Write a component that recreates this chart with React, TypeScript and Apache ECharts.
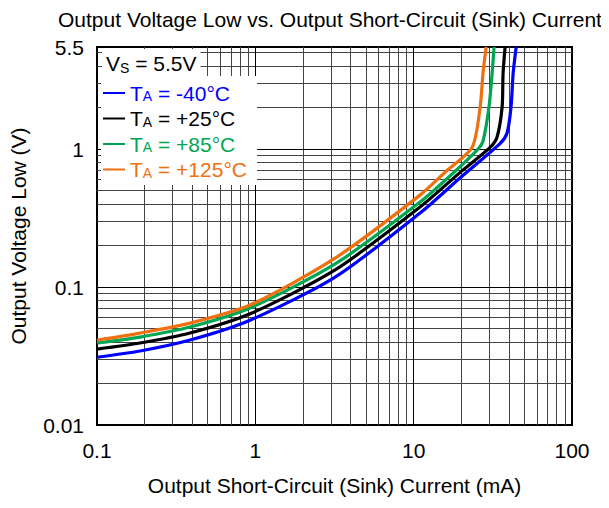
import React, { useEffect, useRef } from "react";
import * as echarts from "echarts";

const xTicks = [0.1, 1, 10, 100];
const yTicks = [0.01, 0.1, 1, 5.5];
const xMinorGrid = [0.2, 0.3, 0.4, 0.5, 0.6, 0.7, 0.8, 0.9, 2, 3, 4, 5, 6, 7, 8, 9, 20, 30, 40, 50, 60, 70, 80, 90];
const xMajorGrid = [1, 10];
const yMinorGrid = [0.02, 0.03, 0.04, 0.05, 0.06, 0.07, 0.08, 0.09, 0.2, 0.3, 0.4, 0.5, 0.6, 0.7, 0.8, 0.9, 2, 3, 4, 5];
const yMajorGrid = [0.1, 1];

const seriesNames = ["TA = -40°C", "TA = +25°C", "TA = +85°C", "TA = +125°C"];
const seriesColors = ["#0000FF", "#000000", "#00A651", "#F07010"];

const currentM40 = [0.1, 0.187, 0.387, 0.926, 3.19, 10.97, 19.6, 35.2, 38.9, 41.2, 42.5, 44.4];
const voltageM40 = [0.031, 0.0344, 0.0413, 0.0575, 0.118, 0.344, 0.617, 1.1, 1.31, 2.02, 3.55, 5.5];

const currentP25 = [0.1, 0.187, 0.387, 0.926, 3.19, 10.97, 20, 30.4, 33.6, 36.2, 36.7, 37.8];
const voltageP25 = [0.0355, 0.0393, 0.0464, 0.064, 0.133, 0.38, 0.69, 1.03, 1.22, 2.02, 3.55, 5.5];

const currentP85 = [0.1, 0.187, 0.387, 0.926, 3.19, 10.97, 18, 25.5, 27.4, 29.9, 31.3, 32.2];
const voltageP85 = [0.0393, 0.0434, 0.0513, 0.0705, 0.147, 0.413, 0.68, 1.0, 1.14, 2.02, 3.55, 5.5];

const currentP125 = [0.1, 0.187, 0.387, 0.926, 3.19, 10.97, 15.8, 23.4, 26.3, 27.4, 28.7];
const voltageP125 = [0.0413, 0.0464, 0.0548, 0.0741, 0.162, 0.464, 0.68, 1.03, 2.02, 3.55, 5.5];

const allCurrents = [currentM40, currentP25, currentP85, currentP125];
const allVoltages = [voltageM40, voltageP25, voltageP85, voltageP125];

const FONT = "Liberation Sans, Arial, sans-serif";
const FS = 21;
const SUB = 14;

export default function App() {
  const ref = useRef<HTMLDivElement>(null);
  useEffect(() => {
    if (!ref.current) return;
    const chart = echarts.init(ref.current, undefined, { renderer: "svg" });
    const gridLine = (vals: number[], key: "xAxis" | "yAxis", color: string) =>
      vals.map((v) => ({ [key]: v, lineStyle: { color, width: 1, type: "solid" } }));

    const curves = seriesNames.map((name, i) => ({
      name,
      type: "line",
      data: allCurrents[i].map((c, j) => [c, allVoltages[i][j]]),
      showSymbol: false,
      symbol: "none",
      smooth: 0.25,
      z: 5,
      lineStyle: { color: seriesColors[i], width: 3.2 },
      itemStyle: { color: seriesColors[i] },
    }));

    const rich: any = {};
    seriesColors.forEach((c) => {
      const k = c.slice(1);
      rich[`m${k}`] = { color: c, fontSize: FS, fontFamily: FONT, lineHeight: 20 };
      rich[`s${k}`] = { color: c, fontSize: SUB, fontFamily: FONT, verticalAlign: "bottom", padding: [10, 0, 0, 0], lineHeight: 20 };
    });

    chart.setOption({
      animation: false,
      title: {
        text: "Output Voltage Low vs. Output Short-Circuit (Sink) Current",
        left: 53,
        top: 4,
        textStyle: { fontFamily: FONT, fontSize: FS, fontWeight: "normal", color: "#000" },
      },
      grid: {
        left: 97,
        right: 37,
        top: 47,
        bottom: 83,
        show: true,
        borderColor: "#000",
        borderWidth: 2,
        backgroundColor: "#fff",
      },
      legend: {
        data: seriesNames,
        orient: "vertical",
        left: 101,
        top: 76,
        padding: [3, 10, 5, 2],
        itemGap: 1,
        backgroundColor: "#fff",
        icon: "rect",
        itemWidth: 22,
        itemHeight: 2,
        z: 10,
        textStyle: { fontFamily: FONT, fontSize: FS, rich },
        formatter: (name: string) => {
          const i = seriesNames.indexOf(name);
          const k = seriesColors[i].slice(1);
          const rest = name.slice(2);
          return `{m${k}|T}{s${k}|A}{m${k}|${rest}}`;
        },
      },
      graphic: [
        {
          type: "text",
          left: 102,
          top: 49,
          z: 20,
          style: {
            text: "{m|V}{s|S}{m| = 5.5V}",
            backgroundColor: "#fff",
            padding: [2, 4, 2, 4],
            rich: {
              m: { fontSize: FS, fontFamily: FONT, fill: "#000", lineHeight: 24 },
              s: { fontSize: SUB, fontFamily: FONT, fill: "#000", verticalAlign: "bottom", padding: [10, 0, 0, 0], lineHeight: 24 },
            },
          },
        },
      ],
      xAxis: {
        type: "log",
        logBase: 10,
        min: 0.1,
        max: 100,
        name: "Output Short-Circuit (Sink) Current (mA)",
        nameLocation: "middle",
        nameGap: 50,
        nameTextStyle: { fontFamily: FONT, fontSize: FS, color: "#000" },
        axisLine: { show: false },
        axisTick: { show: false },
        splitLine: { show: false },
        axisLabel: {
          customValues: xTicks,
          formatter: (v: number) => String(v),
          fontFamily: FONT,
          fontSize: FS,
          color: "#000",
          margin: 15,
          showMinLabel: true,
          showMaxLabel: true,
        },
      },
      yAxis: {
        type: "log",
        logBase: 10,
        min: 0.01,
        max: 5.5,
        name: "Output Voltage Low (V)",
        nameLocation: "middle",
        nameGap: 68,
        nameTextStyle: { fontFamily: FONT, fontSize: FS, color: "#000" },
        axisLine: { show: false },
        axisTick: { show: false },
        splitLine: { show: false },
        axisLabel: {
          customValues: yTicks,
          formatter: (v: number) => String(v),
          fontFamily: FONT,
          fontSize: FS,
          color: "#000",
          margin: 13,
          showMinLabel: true,
          showMaxLabel: true,
        },
      },
      series: [
        {
          name: "grid",
          type: "line",
          data: [],
          z: 1,
          silent: true,
          markLine: {
            silent: true,
            symbol: ["none", "none"],
            label: { show: false },
            animation: false,
            data: [
              ...gridLine(xMinorGrid, "xAxis", "#444"),
              ...gridLine(yMinorGrid, "yAxis", "#444"),
              ...gridLine(xMajorGrid, "xAxis", "#000"),
              ...gridLine(yMajorGrid, "yAxis", "#000"),
            ],
          },
        },
        ...curves,
      ],
    });
    return () => chart.dispose();
  }, []);
  return <div ref={ref} style={{ width: 609, height: 508, margin: -8 }} />;
}
